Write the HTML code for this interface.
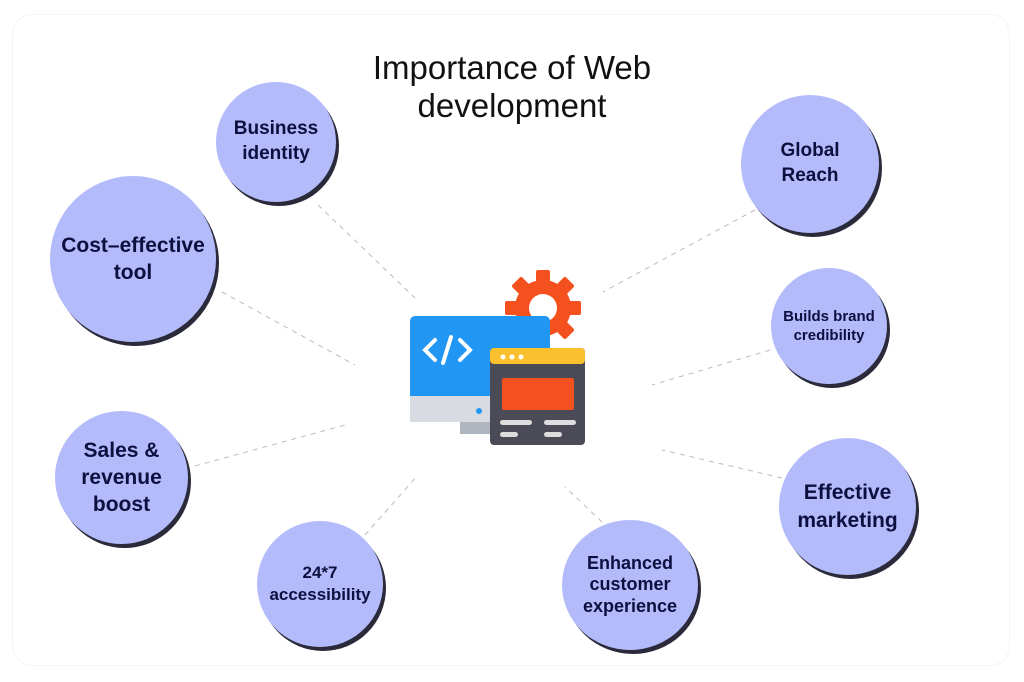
<!DOCTYPE html>
<html><head><meta charset="utf-8"><style>
body{margin:0;width:1024px;height:682px;background:#fff;position:relative;overflow:hidden;font-family:"Liberation Sans",sans-serif}
.c{position:absolute;border-radius:50%;background:#b3bbfb;box-shadow:3px 4px 0 #2a2a3a;display:flex;align-items:center;justify-content:center;text-align:center;color:#0d0f3f;font-weight:bold;line-height:1.3}
.t{position:absolute;left:0;width:1024px;text-align:center;top:49px;font-size:33px;line-height:38px;color:#111}
</style></head><body>
<div style="position:absolute;left:12px;top:14px;width:996px;height:650px;border:1px solid #f4f4f4;border-radius:20px"></div>
<div class="t">Importance of Web<br>development</div>
<svg width="1024" height="682" style="position:absolute;left:0;top:0">
<g stroke="#bbb" stroke-width="1" stroke-dasharray="5,5">
<line x1="318" y1="205" x2="415" y2="298"/><line x1="222" y1="292" x2="355" y2="365"/>
<line x1="195" y1="466" x2="345" y2="425"/><line x1="365" y1="535" x2="418" y2="475"/>
<line x1="602" y1="522" x2="565" y2="487"/><line x1="782" y1="478" x2="662" y2="450"/>
<line x1="770" y1="350" x2="652" y2="385"/><line x1="755" y1="210" x2="603" y2="292"/>
</g>
<g transform="translate(543,308)" fill="#f4511e">
<circle r="28"/>
<g><rect x="-7" y="-38" width="14" height="76" rx="2"/><rect x="-7" y="-38" width="14" height="76" rx="2" transform="rotate(45)"/><rect x="-7" y="-38" width="14" height="76" rx="2" transform="rotate(90)"/><rect x="-7" y="-38" width="14" height="76" rx="2" transform="rotate(135)"/></g>
<circle r="14" fill="#fff"/>
</g>
<rect x="460" y="418" width="40" height="16" fill="#b0b6c0"/>
<rect x="410" y="316" width="140" height="106" rx="5" fill="#2196f3"/>
<rect x="410" y="396" width="140" height="26" fill="#d8dce2"/>
<circle cx="479" cy="411" r="3" fill="#2196f3"/>
<path d="M435 340 l-10 10 l10 10 M451 337 l-8 26 M460 340 l10 10 l-10 10" stroke="#fff" stroke-width="4" fill="none" stroke-linecap="round"/>
<rect x="490" y="348" width="95" height="97" rx="4" fill="#4b4b58"/>
<rect x="490" y="348" width="95" height="16" rx="4" fill="#fbc02d"/>
<circle cx="503" cy="357" r="2.5" fill="#fff"/><circle cx="512" cy="357" r="2.5" fill="#fff"/><circle cx="521" cy="357" r="2.5" fill="#fff"/>
<rect x="502" y="378" width="72" height="32" rx="2" fill="#f4511e"/>
<rect x="500" y="420" width="32" height="5" rx="2.5" fill="#ddd"/><rect x="544" y="420" width="32" height="5" rx="2.5" fill="#ddd"/>
<rect x="500" y="432" width="18" height="5" rx="2.5" fill="#ddd"/><rect x="544" y="432" width="18" height="5" rx="2.5" fill="#ddd"/>
</svg>
<div class="c" style="left:216px;top:82px;width:120px;height:120px;font-size:19px">Business<br>identity</div>
<div class="c" style="left:50px;top:176px;width:166px;height:166px;font-size:21px">Cost–effective<br>tool</div>
<div class="c" style="left:55px;top:411px;width:133px;height:133px;font-size:21px">Sales &amp;<br>revenue<br>boost</div>
<div class="c" style="left:257px;top:521px;width:126px;height:126px;font-size:17px">24*7<br>accessibility</div>
<div class="c" style="left:562px;top:520px;width:136px;height:130px;font-size:18px;line-height:1.2">Enhanced<br>customer<br>experience</div>
<div class="c" style="left:779px;top:438px;width:137px;height:137px;font-size:21px">Effective<br>marketing</div>
<div class="c" style="left:771px;top:268px;width:116px;height:116px;font-size:15px">Builds brand<br>credibility</div>
<div class="c" style="left:741px;top:95px;width:138px;height:138px;font-size:19px">Global<br>Reach</div>
</body></html>
